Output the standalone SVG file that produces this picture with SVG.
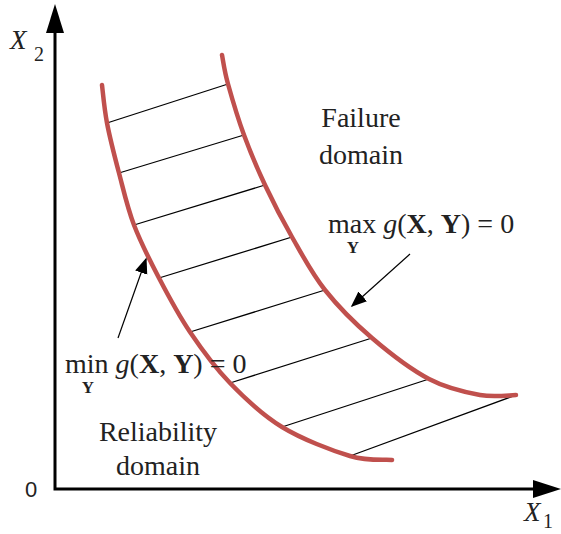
<svg xmlns="http://www.w3.org/2000/svg" width="561" height="534" viewBox="0 0 561 534">
<style>
.ax{stroke:#000;stroke-width:3;fill:none}
.curve{stroke:#c0504d;stroke-width:4.5;fill:none;stroke-linecap:round}
.hatch{stroke:#000;stroke-width:1.3}
.lead{stroke:#000;stroke-width:1.2;fill:none}
.t{font-family:"Liberation Serif","Times New Roman",serif;fill:#222}
.lg{font-size:28px}
.var{font-size:27px;font-style:italic}
.idx{font-size:20px}
.it{font-style:italic}
.b{font-weight:bold}
.sub{font-size:17px;font-weight:bold}
</style>
<defs>
<marker id="ah" viewBox="0 0 10 10" refX="9" refY="5" markerWidth="16" markerHeight="16" markerUnits="userSpaceOnUse" orient="auto">
<path d="M0,1 L10,5 L0,9 Z" fill="#000"/>
</marker>
</defs>
<g id="axes">
<path class="ax" d="M55,30 V489 H536"/>
<path d="M55,4 L64,33 L46,33 Z" fill="#000"/>
<path d="M561,489 L533,480 L533,498 Z" fill="#000"/>
<text class="t var" x="10" y="49">X</text>
<text class="t idx" x="34" y="61">2</text>
<text class="t var" x="524" y="521">X</text>
<text class="t idx" x="543" y="528">1</text>
<text x="25" y="497" style="font-family:'Liberation Sans',Arial,sans-serif;font-size:22px;fill:#222">0</text>
</g>
<g id="hatching">
<line class="hatch" x1="107" y1="123" x2="228" y2="84"/>
<line class="hatch" x1="119" y1="173" x2="244" y2="135"/>
<line class="hatch" x1="134" y1="225" x2="265" y2="185"/>
<line class="hatch" x1="159" y1="278" x2="292" y2="237"/>
<line class="hatch" x1="190" y1="332" x2="325" y2="290"/>
<line class="hatch" x1="230" y1="383" x2="372" y2="338"/>
<line class="hatch" x1="282" y1="427" x2="429" y2="379"/>
<line class="hatch" x1="350" y1="456" x2="516" y2="395"/>
</g>
<g id="min-curve">
<path class="curve" d="M102,85 C102.8,91.3 104.2,108.3 107,123 C109.8,137.7 114.5,156 119,173 C123.5,190 127.3,207.5 134,225 C140.7,242.5 149.7,260.2 159,278 C168.3,295.8 178.2,314.5 190,332 C201.8,349.5 214.7,367.2 230,383 C245.3,398.8 262,414.8 282,427 C302,439.2 331.7,450.5 350,456 C368.3,461.5 385,459.3 392,460"/>
</g>
<g id="max-curve">
<path class="curve" d="M222,55 C223,59.8 224.3,70.7 228,84 C231.7,97.3 237.8,118.2 244,135 C250.2,151.8 257,168 265,185 C273,202 282,219.5 292,237 C302,254.5 311.7,273.2 325,290 C338.3,306.8 354.7,323.2 372,338 C389.3,352.8 411,369.5 429,379 C447,388.5 465.5,392.3 480,395 C494.5,397.7 510,395 516,395"/>
</g>
<g id="connectors">
<line class="lead" x1="410" y1="254" x2="352" y2="306" marker-end="url(#ah)"/>
<line class="lead" x1="118" y1="338" x2="146" y2="259" marker-end="url(#ah)"/>
</g>
<g id="failure-label">
<text class="t lg" x="361" y="127" text-anchor="middle">Failure</text>
<text class="t lg" x="361" y="164" text-anchor="middle">domain</text>
</g>
<g id="max-label">
<text class="t lg" x="328" y="233">max <tspan class="it">g</tspan>(<tspan class="b">X</tspan>, <tspan class="b">Y</tspan>) = 0</text>
<text class="t sub" x="353" y="253" text-anchor="middle">Y</text>
</g>
<g id="min-label">
<text class="t lg" x="65" y="373">min <tspan class="it">g</tspan>(<tspan class="b">X</tspan>, <tspan class="b">Y</tspan>) = 0</text>
<text class="t sub" x="88" y="393" text-anchor="middle">Y</text>
</g>
<g id="reliability-label">
<text class="t lg" x="158" y="441" text-anchor="middle">Reliability</text>
<text class="t lg" x="158" y="475" text-anchor="middle">domain</text>
</g>
</svg>
